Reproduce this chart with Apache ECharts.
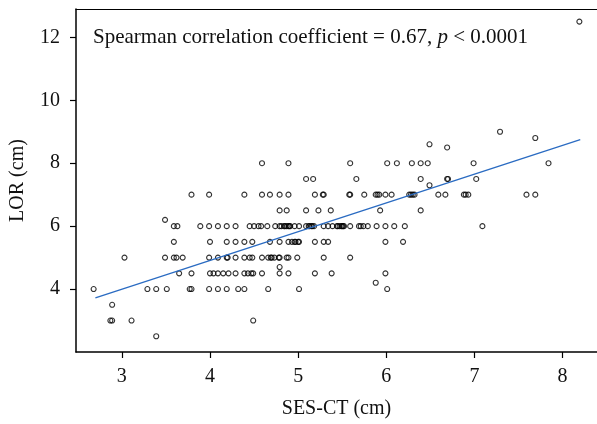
<!DOCTYPE html>
<html>
<head>
<meta charset="utf-8">
<script src="https://cdn.jsdelivr.net/npm/echarts@6/dist/echarts.min.js"></script>
<style>
  html, body { margin: 0; padding: 0; background: #fff; }
  #chart { width: 597px; height: 424px; }
</style>
</head>
<body>
<div id="chart"></div>
<script>
// LOR (cm) levels, and SES-CT (cm) values of the patients at each level
const lorLevels = [12.5, 9, 8.8, 8.6, 8.5, 8, 7.5, 7.3, 7, 6.5, 6.2, 6, 5.5, 5, 4.7, 4.5, 4.2, 4, 3.5, 3, 2.5];
const sesAtLevel = [
  [8.19],
  [7.29],
  [7.69],
  [6.49],
  [6.69],
  [4.59, 4.89, 5.59, 6.01, 6.12, 6.29, 6.39, 6.47, 6.99, 7.84],
  [5.09, 5.17, 5.66, 6.39, 6.69, 6.70, 7.02],
  [6.49],
  [3.79, 3.99, 4.39, 4.59, 4.68, 4.79, 4.89, 5.19, 5.28, 5.29, 5.58, 5.59, 5.75, 5.88, 5.90, 5.92, 5.99, 6.06,
   6.26, 6.28, 6.30, 6.32, 6.59, 6.67, 6.88, 6.90, 6.93, 7.59, 7.69],
  [4.79, 4.87, 5.09, 5.23, 5.37, 5.93, 6.39],
  [3.49],
  [3.59, 3.63, 3.89, 3.99, 4.09, 4.19, 4.29, 4.45, 4.50, 4.55, 4.58, 4.65, 4.74, 4.79, 4.81, 4.84, 4.85, 4.87,
   4.89, 4.90, 4.91, 4.96, 5.01, 5.09, 5.12, 5.13, 5.15, 5.16, 5.18, 5.29, 5.34, 5.39, 5.44, 5.45, 5.47, 5.49,
   5.50, 5.51, 5.52, 5.59, 5.69, 5.71, 5.74, 5.79, 5.89, 5.99, 6.09, 6.21, 7.09],
  [3.59, 4.00, 4.19, 4.29, 4.39, 4.48, 4.68, 4.79, 4.89, 4.93, 4.96, 4.97, 5.00, 5.01, 5.19, 5.29, 5.34, 5.99, 6.19],
  [3.03, 3.49, 3.59, 3.62, 3.69, 3.99, 4.09, 4.19, 4.20, 4.29, 4.39, 4.45, 4.48, 4.59, 4.66, 4.69, 4.70, 4.73,
   4.78, 4.79, 4.87, 4.89, 4.99, 5.29, 5.59],
  [4.79],
  [3.65, 3.79, 4.00, 4.04, 4.09, 4.15, 4.21, 4.29, 4.39, 4.43, 4.47, 4.49, 4.59, 4.79, 4.89, 5.19, 5.38, 5.99],
  [5.88],
  [2.68, 3.29, 3.39, 3.51, 3.77, 3.79, 3.99, 4.09, 4.19, 4.32, 4.39, 4.66, 5.01, 6.01],
  [2.89],
  [2.87, 2.89, 3.11, 4.49],
  [3.39]
];

// fitted line end points
const fitX = [2.70, 8.20];
const fitY = [3.72, 8.75];

const xTicks = [3, 4, 5, 6, 7, 8];
const yTicks = [4, 6, 8, 10, 12];

const points = [];
lorLevels.forEach((lor, i) => {
  sesAtLevel[i].forEach(ses => points.push([ses, lor]));
});
const fitLine = fitX.map((x, i) => [x, fitY[i]]);

const serif = '"Liberation Serif", "DejaVu Serif", serif';
const xMin = 2.48, xMax = 8.39;

const chart = echarts.init(document.getElementById('chart'));
chart.setOption({
  animation: false,
  grid: { left: 74, top: 9, right: 0, bottom: 69 },
  xAxis: [
    {
      type: 'value',
      min: xMin,
      max: xMax,
      name: 'SES-CT (cm)',
      nameLocation: 'middle',
      nameGap: 47,
      nameTextStyle: { fontFamily: serif, fontSize: 20, color: '#111' },
      splitLine: { show: false },
      axisLine: { lineStyle: { color: '#000', width: 1.5 } },
      axisTick: { length: 6, lineStyle: { color: '#000', width: 1.2 }, customValues: xTicks },
      axisLabel: { fontFamily: serif, fontSize: 20, color: '#111', margin: 15, customValues: xTicks }
    },
    {
      // top frame line only
      type: 'value',
      position: 'top',
      min: xMin,
      max: xMax,
      splitLine: { show: false },
      axisLine: { lineStyle: { color: '#000', width: 1.2 } },
      axisTick: { show: false },
      axisLabel: { show: false }
    }
  ],
  yAxis: {
    type: 'value',
    min: 2,
    max: 12.9,
    name: 'LOR (cm)',
    nameLocation: 'middle',
    nameGap: 48,
    nameTextStyle: { fontFamily: serif, fontSize: 20, color: '#111' },
    splitLine: { show: false },
    axisLine: { lineStyle: { color: '#000', width: 1.5 } },
    axisTick: { length: 6, lineStyle: { color: '#000', width: 1.2 }, customValues: yTicks },
    axisLabel: { fontFamily: serif, fontSize: 20, color: '#111', margin: 16, customValues: yTicks }
  },
  graphic: [{
    type: 'text',
    left: 93,
    top: 27,
    style: {
      text: '{n|Spearman correlation coefficient = 0.67, }{i|p}{n| < 0.0001}',
      rich: {
        n: { fontFamily: serif, fontSize: 21, fill: '#111' },
        i: { fontFamily: serif, fontSize: 21, fontStyle: 'italic', fill: '#111' }
      }
    }
  }],
  series: [
    {
      type: 'scatter',
      data: points,
      symbol: 'circle',
      symbolSize: 5,
      itemStyle: { color: 'rgba(0,0,0,0)', borderColor: '#000', borderWidth: 1.1 },
      z: 3
    },
    {
      type: 'line',
      data: fitLine,
      symbol: 'none',
      lineStyle: { color: '#2a6bc2', width: 1.3 },
      z: 4
    }
  ]
});
</script>
</body>
</html>
